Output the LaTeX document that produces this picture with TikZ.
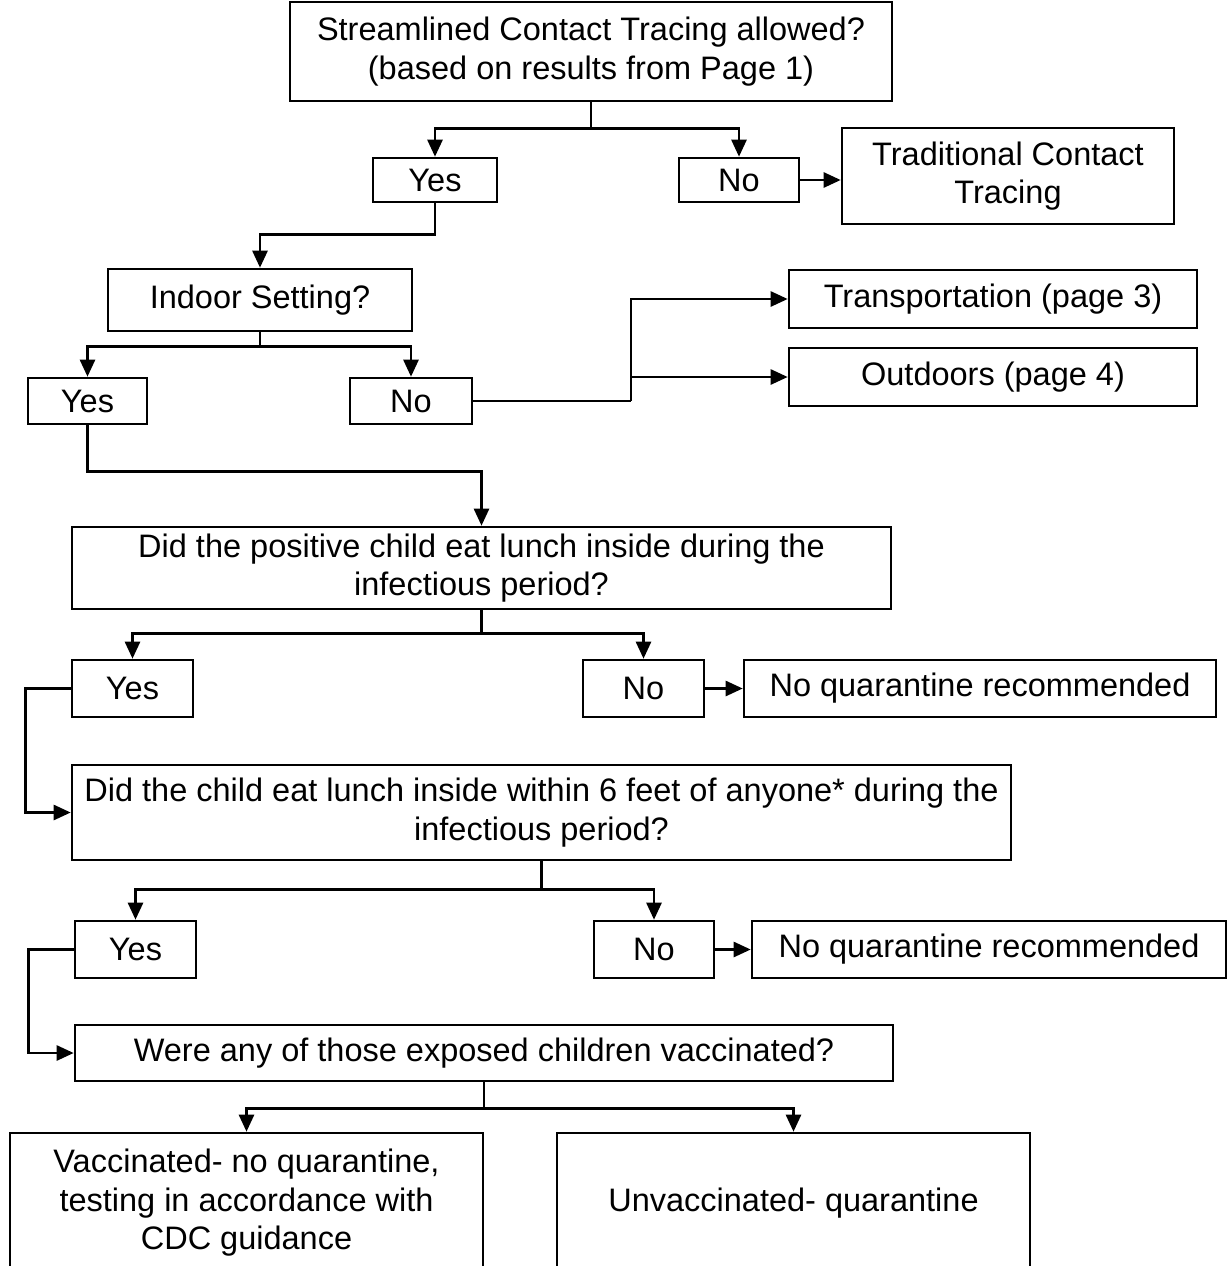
\documentclass[tikz,border=0pt]{standalone}
\usepackage{fontspec}
\setmainfont{Liberation Sans}
\usetikzlibrary{arrows.meta}
\begin{document}
\begin{tikzpicture}[x=1pt,y=-1pt,
  box/.style={draw, line width=2.6pt, align=center, inner sep=0pt,
    font=\fontsize{32.5}{38.5}\selectfont},
  conn/.style={line width=2.6pt},
  arr/.style={conn, -{Triangle[length=17pt,width=15pt]}}]
\useasboundingbox (0,0) rectangle (1230,1266);
\fill[white] (0,0) rectangle (1230,1266);
\clip (0,0) rectangle (1230,1266);

% nodes
\node[box, minimum width=602, minimum height=99] (top) at (591,51.5)
  {Streamlined Contact Tracing allowed?\\(based on results from Page 1)};
\node[box, minimum width=124, minimum height=44] (yes1) at (435,180) {Yes};
\node[box, minimum width=120, minimum height=44] (no1) at (739,180) {No};
\node[box, minimum width=332, minimum height=96] (trad) at (1008,176)
  {Traditional Contact\\Tracing};
\node[box, minimum width=304, minimum height=62] (indoor) at (260,300) {Indoor Setting?};
\node[box, minimum width=119, minimum height=46] (yes2) at (87.5,401) {Yes};
\node[box, minimum width=122, minimum height=46] (no2) at (411,401) {No};
\node[box, minimum width=408, minimum height=58] (transp) at (993,299) {Transportation (page 3)};
\node[box, minimum width=408, minimum height=58] (outd) at (993,377) {Outdoors (page 4)};
\node[box, minimum width=819, minimum height=82] (q1) at (481.5,568)
  {Did the positive child eat lunch inside during the\\infectious period?};
\node[box, minimum width=121, minimum height=57] (yes3) at (132.5,688.5) {Yes};
\node[box, minimum width=121, minimum height=57] (no3) at (643.5,688.5) {No};
\node[box, minimum width=472, minimum height=57] (nqr1) at (980,688.5) {No quarantine recommended};
\node[box, minimum width=939, minimum height=95] (q2) at (541.5,812.5)
  {Did the child eat lunch inside within 6 feet of anyone* during the\\infectious period?};
\node[box, minimum width=121, minimum height=57] (yes4) at (135.5,949.5) {Yes};
\node[box, minimum width=120, minimum height=57] (no4) at (654,949.5) {No};
\node[box, minimum width=474, minimum height=57] (nqr2) at (989,949.5) {No quarantine recommended};
\node[box, minimum width=818, minimum height=56] (q3) at (484,1053)
  {Were any of those exposed children vaccinated?};
\node[box, minimum width=473, minimum height=140] (vacc) at (246.5,1203)
  {Vaccinated- no quarantine,\\testing in accordance with\\CDC guidance};
\node[box, minimum width=473, minimum height=140] (unvacc) at (793.5,1203)
  {Unvaccinated- quarantine};

% connectors
\draw[arr] (top.south) -- ++(0,26) -| (yes1.north);
\draw[arr] (top.south) -- ++(0,26) -| (no1.north);
\draw[arr] (no1.east) -- (no1.east -| trad.west);
\draw[arr] (yes1.south) -- ++(0,31) -| (indoor.north);
\draw[arr] (indoor.south) -- ++(0,14) -| (yes2.north);
\draw[arr] (indoor.south) -- ++(0,14) -| (no2.north);
\coordinate (j1) at (631,401);
\draw[conn] (no2.east) -- (j1);
\draw[arr] (j1) |- (transp.west);
\draw[arr] (j1) |- (outd.west);
\draw[arr] (yes2.south) -- ++(0,46) -| (q1.north);
\draw[arr] (q1.south) -- ++(0,23) -| (yes3.north);
\draw[arr] (q1.south) -- ++(0,23) -| (no3.north);
\draw[arr] (no3.east) -- (nqr1.west);
\draw[arr] (yes3.west) -- ++(-45,0) |- (q2.west);
\draw[arr] (q2.south) -- ++(0,28) -| (yes4.north);
\draw[arr] (q2.south) -- ++(0,28) -| (no4.north);
\draw[arr] (no4.east) -- (nqr2.west);
\draw[arr] (yes4.west) -- ++(-45,0) |- (q3.west);
\draw[arr] (q3.south) -- ++(0,26) -| (vacc.north);
\draw[arr] (q3.south) -- ++(0,26) -| (unvacc.north);
\end{tikzpicture}
\end{document}
